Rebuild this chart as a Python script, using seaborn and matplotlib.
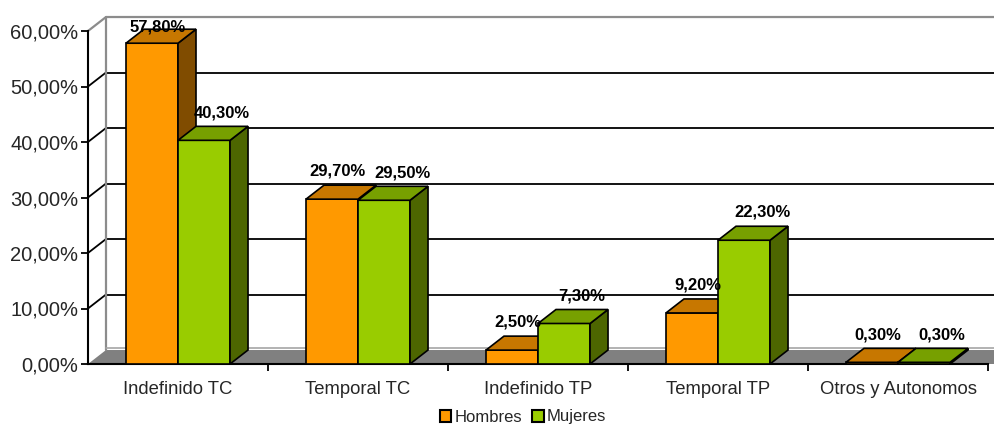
"""3D-style grouped bar chart: contract type by sex."""

import matplotlib
matplotlib.use("Agg")
import matplotlib.pyplot as plt
import pandas as pd
import seaborn as sns
from matplotlib.patches import Patch, Polygon

categorias = ["Indefinido TC", "Temporal TC", "Indefinido TP", "Temporal TP", "Otros y Autonomos"]
series = ["Hombres", "Mujeres"]
hombres = [57.8, 29.7, 2.5, 9.2, 0.3]
mujeres = [40.3, 29.5, 7.3, 22.3, 0.3]
yticks = [0, 10, 20, 30, 40, 50, 60]
ytick_labels = ["0,00%", "10,00%", "20,00%", "30,00%", "40,00%", "50,00%", "60,00%"]

FRONT = {"Hombres": "#FF9900", "Mujeres": "#99CC00"}
TOP = {"Hombres": "#C77700", "Mujeres": "#77A000"}
SIDE = {"Hombres": "#804C00", "Mujeres": "#4D6600"}
LABEL_SHIFT = {"Hombres": 0.03, "Mujeres": 0.1}
DX, DY = 0.1, 2.52  # depth offset in data units

df = pd.DataFrame({
    "categoria": categorias * 2,
    "sexo": [series[0]] * len(hombres) + [series[1]] * len(mujeres),
    "valor": hombres + mujeres,
})

sns.set_theme(style="white")
plt.rcParams["font.family"] = ["Liberation Sans", "DejaVu Sans"]

fig = plt.figure(figsize=(9.94, 4.24), dpi=100)
ax = fig.add_axes([88 / 994, 60 / 424, 900 / 994, 333 / 424])

sns.barplot(data=df, x="categoria", y="valor", hue="sexo", hue_order=series,
            palette=[FRONT[s] for s in series], width=0.578, saturation=1,
            errorbar=None, edgecolor="black", linewidth=1.2, legend=False, ax=ax)

ax.set_xlim(-0.5, 4.5)
ax.set_ylim(0, 60)

# walls and floor
x_left, x_right = -0.5, 4.5
ax.add_patch(Polygon([(x_left, 0), (x_right + 0.5, 0), (x_right + 0.5 + DX, DY), (x_left + DX, DY)],
                     closed=True, fc="#808080", ec="none", clip_on=False, zorder=1))
ax.plot([x_left + DX, x_right + 1], [DY + 0.3, DY + 0.3], color="#A6A6A6", lw=1.2, clip_on=False, zorder=1.1)
for v in yticks[1:-1]:
    ax.plot([x_left, x_left + DX], [v, v + DY], color="black", lw=1.3, clip_on=False, zorder=1)
    ax.plot([x_left + DX, x_right + 1], [v + DY, v + DY], color="black", lw=1.3, clip_on=False, zorder=1)
ax.plot([x_left, x_left + DX, x_right + 1], [60, 60 + DY, 60 + DY], color="#8C8C8C", lw=1.6,
        clip_on=False, zorder=1)
ax.plot([x_left + DX, x_left + DX], [DY, 60 + DY], color="#8C8C8C", lw=1.6, clip_on=False, zorder=1)

# 3D faces for the bars
n = len(categorias)
bars = list(ax.patches)[: 2 * n]
order = sorted(range(len(bars)), key=lambda i: bars[i].get_x())
for rank, i in enumerate(order):
    p = bars[i]
    s = series[i // n]
    x0, w, h = p.get_x(), p.get_width(), p.get_height()
    x1 = x0 + w
    z = 3 + rank * 0.1
    p.set_zorder(z)
    ax.add_patch(Polygon([(x1, 0), (x1 + DX, DY), (x1 + DX, h + DY), (x1, h)], closed=True,
                         fc=SIDE[s], ec="black", lw=1.2, clip_on=False, zorder=z))
    ax.add_patch(Polygon([(x0, h), (x1, h), (x1 + DX, h + DY), (x0 + DX, h + DY)], closed=True,
                         fc=TOP[s], ec="black", lw=1.2, clip_on=False, zorder=z))
    label = f"{h:.2f}".replace(".", ",") + "%"
    ax.text(x0 + w / 2 + LABEL_SHIFT[s], min(h + 5.0, 60.7), label, ha="center", va="center",
            fontsize=12, fontweight="bold", color="black", zorder=20, clip_on=False)

# axes styling
for side in ["top", "right"]:
    ax.spines[side].set_visible(False)
for side in ["left", "bottom"]:
    ax.spines[side].set_color("black")
    ax.spines[side].set_linewidth(1.5)
    ax.spines[side].set_zorder(2)
ax.set_yticks(yticks, ytick_labels)
ax.tick_params(axis="y", length=5, width=1.3, color="black", direction="out", labelsize=14.5, pad=2,
               left=True)
ax.set_xticks(range(n), categorias)
ax.set_xticks([k + 0.5 for k in range(n)], minor=True)
ax.tick_params(axis="x", which="major", length=0, labelsize=13.3, pad=12)
ax.tick_params(axis="x", which="minor", length=5, width=1.3, color="black", direction="out", bottom=True)
ax.set_xlabel("")
ax.set_ylabel("")
ax.grid(False)

handles = [Patch(fc=FRONT[s], ec="black", lw=1.5) for s in series]
fig.legend(handles, series, loc="center", bbox_to_anchor=(523 / 994, 1 - 417 / 424), ncol=2,
           frameon=False, fontsize=12, handlelength=0.7, handleheight=0.7, handletextpad=0.2,
           columnspacing=0.6, borderpad=0)

fig.savefig("out.png", dpi=100)
